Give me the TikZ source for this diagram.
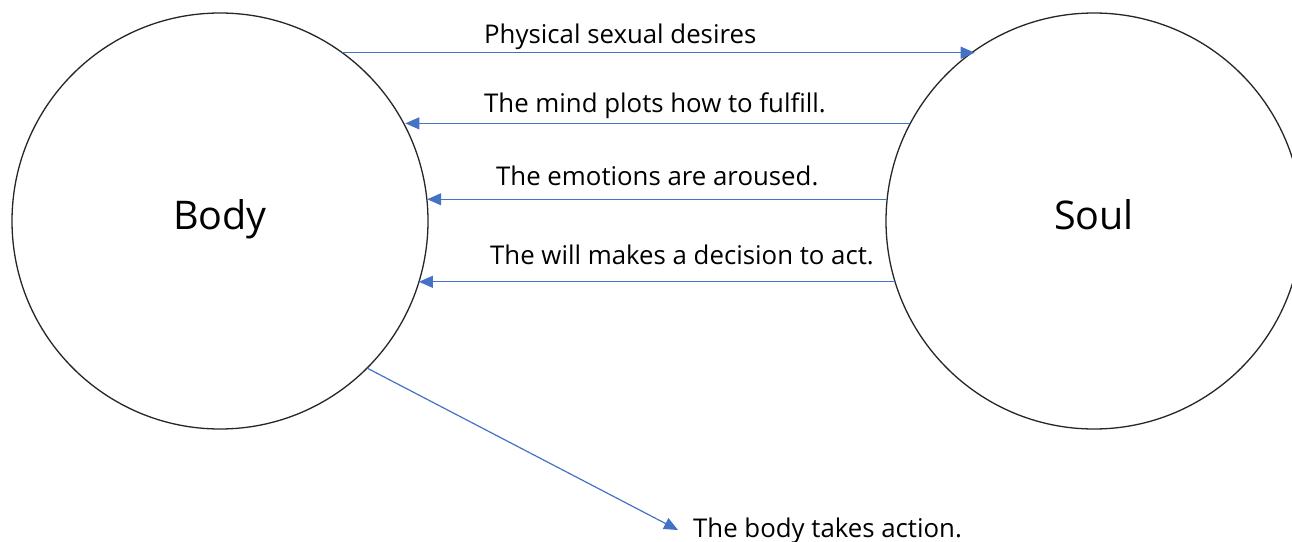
\documentclass[tikz,border=0pt]{standalone}
\usepackage{fontspec}
\setmainfont{Open Sans}
\usetikzlibrary{arrows.meta}
\definecolor{arrowblue}{HTML}{4472C4}
\begin{document}
\begin{tikzpicture}[x=1pt,y=-1pt,
  bigcircle/.style={circle,draw=black!85,line width=1.3pt,minimum size=416pt,inner sep=0pt,outer sep=0pt,font=\fontsize{39.5}{44}\selectfont,execute at begin node=\strut},
  link/.style={draw=arrowblue,line width=1.2pt,-{Triangle[length=14pt,width=12pt]}},
  lbl/.style={anchor=base west,inner sep=0pt,font=\fontsize{25.8}{30}\selectfont,text=black}]
\clip (0,0) rectangle (1292,541);
\fill[white] (0,0) rectangle (1292,541);
\node[bigcircle] (body) at (220,221) {Body};
\node[bigcircle] (soul) at (1094,221) {Soul};
\draw[link] (body.54.5) -- (body.54.5 -| soul.125.5);
\draw[link] (soul.152.2) -- (soul.152.2 -| body.27.8);
\draw[link] (soul.174.8) -- (soul.174.8 -| body.5.2);
\draw[link] (soul.197.1) -- (soul.197.1 -| body.-17.1);
\coordinate (act) at (678,530);
\draw[link] (body.-45.2) -- (act);
\node[lbl] (l1) at (484,43) {Physical sexual desires};
\node[lbl] (l2) at (484,112) {The mind plots how to fulfill.};
\node[lbl] (l3) at (496,185) {The emotions are aroused.};
\node[lbl] (l4) at (490,264) {The will makes a decision to act.};
\node[lbl] (l5) at (693,537) {The body takes action.};
\end{tikzpicture}
\end{document}
